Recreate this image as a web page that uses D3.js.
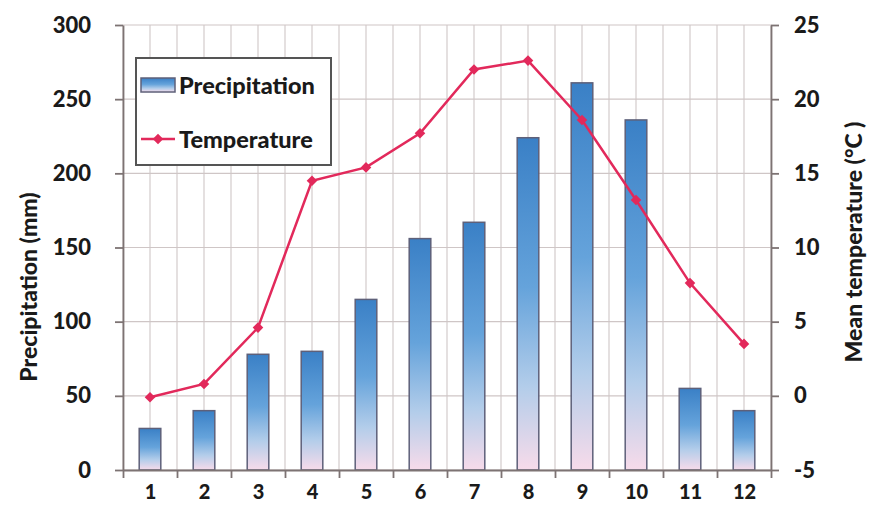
<!DOCTYPE html>
<html>
<head>
<meta charset="utf-8">
<title>Precipitation and Temperature</title>
<script src="https://cdn.jsdelivr.net/npm/d3@7"></script>
<style>
  body { margin: 0; background: #fff; }
  text { font-family: Lato, "Open Sans", sans-serif; font-weight: 900; fill: #1a1a1a; }
</style>
</head>
<body>
<script>
var months = [1, 2, 3, 4, 5, 6, 7, 8, 9, 10, 11, 12];
var precipitation = [28, 40, 78, 80, 115, 156, 167, 224, 261, 236, 55, 40];
var temperature = [-0.1, 0.8, 4.6, 14.5, 15.4, 17.7, 22.0, 22.6, 18.6, 13.2, 7.6, 3.5];
var precipTicks = [0, 50, 100, 150, 200, 250, 300];
var tempTicks = [-5, 0, 5, 10, 15, 20, 25];

var width = 879, height = 511,
    margin = {top: 25, right: 108, bottom: 41, left: 123};
var plotW = width - margin.left - margin.right,
    plotH = height - margin.top - margin.bottom;

var svg = d3.select("body").append("svg")
    .attr("width", width)
    .attr("height", height);

var defs = svg.append("defs");
var grad = defs.append("linearGradient")
    .attr("id", "barGrad")
    .attr("x1", 0).attr("y1", 0).attr("x2", 0).attr("y2", 1);
grad.append("stop").attr("offset", "0%").attr("stop-color", "#3a80c6");
grad.append("stop").attr("offset", "45%").attr("stop-color", "#65a3db");
grad.append("stop").attr("offset", "75%").attr("stop-color", "#b3cdea");
grad.append("stop").attr("offset", "100%").attr("stop-color", "#f7dbea");

var g = svg.append("g")
    .attr("transform", "translate(" + margin.left + "," + margin.top + ")");

var x = d3.scaleLinear().domain([0.5, 12.5]).range([0, plotW]);
var yP = d3.scaleLinear().domain([0, 300]).range([plotH, 0]);
var yT = d3.scaleLinear().domain([-5, 25]).range([plotH, 0]);

var step = x(2) - x(1);
var barW = step * 0.4;

// grid lines: every half month, and every 50 mm
var vLines = months.map(function(m){ return m - 0.5; })
    .concat(months).concat([12.5]);
g.append("g").selectAll("line").data(vLines).enter().append("line")
    .attr("x1", function(d){ return x(d); })
    .attr("x2", function(d){ return x(d); })
    .attr("y1", 0).attr("y2", plotH)
    .attr("stroke", "#d3cbcb").attr("stroke-width", 1.2);
g.append("g").selectAll("line").data(precipTicks).enter().append("line")
    .attr("x1", 0).attr("x2", plotW)
    .attr("y1", function(d){ return yP(d); })
    .attr("y2", function(d){ return yP(d); })
    .attr("stroke", "#cfc6c6").attr("stroke-width", 1.2);

// bars
g.append("g").selectAll("rect").data(months).enter().append("rect")
    .attr("x", function(d){ return x(d) - barW / 2; })
    .attr("y", function(d, i){ return yP(precipitation[i]); })
    .attr("width", barW)
    .attr("height", function(d, i){ return plotH - yP(precipitation[i]); })
    .attr("fill", "url(#barGrad)")
    .attr("stroke", "#5e6079").attr("stroke-width", 1.5);

// axes
var plain = function(d){ return String(d); };   // keep a hyphen for -5

function styleAxis(sel, size){
    sel.selectAll(".domain").attr("stroke", "#7d7373").attr("stroke-width", 1.8);
    sel.selectAll(".tick line").attr("stroke", "#7d7373").attr("stroke-width", 1.8);
    sel.selectAll("text").attr("font-size", size).attr("fill", "#1a1a1a")
        .attr("font-family", "Lato, 'Open Sans', sans-serif").attr("font-weight", 900);
}

var left = g.append("g")
    .call(d3.axisLeft(yP).tickValues(precipTicks).tickFormat(plain)
        .tickSize(8).tickSizeOuter(0).tickPadding(24));
styleAxis(left, 22);

var right = g.append("g")
    .attr("transform", "translate(" + plotW + ",0)")
    .call(d3.axisRight(yT).tickValues(tempTicks).tickFormat(plain)
        .tickSize(8).tickSizeOuter(0).tickPadding(15));
styleAxis(right, 22);

var bottomTicks = g.append("g")
    .attr("transform", "translate(0," + plotH + ")")
    .call(d3.axisBottom(x).tickValues(months.map(function(m){ return m - 0.5; }).concat([12.5]))
        .tickFormat("").tickSize(8).tickSizeOuter(0));
styleAxis(bottomTicks, 20);

var bottomLabels = g.append("g")
    .attr("transform", "translate(0," + plotH + ")")
    .call(d3.axisBottom(x).tickValues(months).tickFormat(plain).tickSize(0).tickPadding(15));
bottomLabels.select(".domain").remove();
styleAxis(bottomLabels, 20);

// temperature line
var line = d3.line()
    .x(function(d){ return x(d); })
    .y(function(d, i){ return yT(temperature[i]); });
g.append("path").datum(months)
    .attr("d", line)
    .attr("fill", "none")
    .attr("stroke", "#e2295b").attr("stroke-width", 2.5);
var diamond = d3.symbol().type(d3.symbolSquare).size(56);
g.append("g").selectAll("path").data(months).enter().append("path")
    .attr("d", diamond)
    .attr("transform", function(d, i){
        return "translate(" + x(d) + "," + yT(temperature[i]) + ") rotate(45)";
    })
    .attr("fill", "#e2295b");

// legend
var legend = svg.append("g").attr("transform", "translate(136,58)");
legend.append("rect")
    .attr("width", 195).attr("height", 107)
    .attr("fill", "#fff").attr("stroke", "#555").attr("stroke-width", 2);
legend.append("rect")
    .attr("x", 5).attr("y", 20).attr("width", 34).attr("height", 14)
    .attr("fill", "url(#barGrad)").attr("stroke", "#5e6079").attr("stroke-width", 1.5);
legend.append("text").attr("x", 43).attr("y", 36).attr("font-size", 23.5).text("Precipitation");
legend.append("line")
    .attr("x1", 5).attr("x2", 39).attr("y1", 81).attr("y2", 81)
    .attr("stroke", "#e2295b").attr("stroke-width", 2.5);
legend.append("path").attr("d", diamond)
    .attr("transform", "translate(22,81) rotate(45)")
    .attr("fill", "#e2295b");
legend.append("text").attr("x", 43).attr("y", 90).attr("font-size", 23.5).text("Temperature");

// axis titles
svg.append("text")
    .attr("transform", "translate(28,287) rotate(-90)")
    .attr("text-anchor", "middle").attr("dominant-baseline", "central")
    .attr("font-size", 23).text("Precipitation (mm)");
svg.append("text")
    .attr("transform", "translate(853,242) rotate(-90)")
    .attr("text-anchor", "middle").attr("dominant-baseline", "central")
    .attr("font-size", 23).text("Mean temperature  (°C )");
</script>
</body>
</html>
